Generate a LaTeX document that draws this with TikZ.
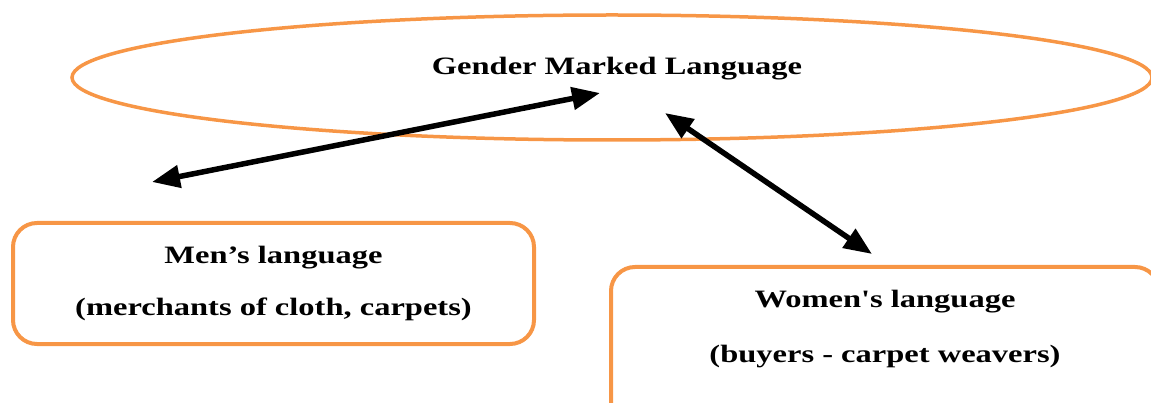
\documentclass[tikz,border=0pt]{standalone}
\usepackage{fontspec}
\newfontfamily\diagfont{Liberation Serif}[FakeStretch=1.3]
\usetikzlibrary{shapes,arrows.meta,positioning}
\definecolor{accentorange}{RGB}{247,150,70}

\begin{document}
\begin{tikzpicture}[x=1pt,y=1pt,
	oval/.style={draw=accentorange, line width=3.5pt, ellipse, minimum width=1080pt, minimum height=125pt, inner sep=0pt},
	langbox/.style={draw=accentorange, line width=4pt, rounded corners=24pt, inner sep=0pt},
	lbl/.style={font=\diagfont\fontsize{25}{52}\selectfont\bfseries, align=center},
	link/.style={{Triangle[length=28pt,width=22pt]}-{Triangle[length=28pt,width=22pt]}, line width=5.5pt}]
	\clip (0,0) rectangle (1151,-403);
	
	\node[oval] (gml) at (612,-77.5) {};
	\node[lbl] (gmltext) at (617,-69) {Gender Marked Language};
	
	\node[langbox, lbl, minimum width=521pt, minimum height=121pt] (men) at (273.5,-283.5) {Men’s language\\(merchants of cloth, carpets)};
	
	\node[langbox, minimum width=548pt, minimum height=160pt] (women) at (885,-347) {};
	\node[lbl] (womentext) at (885,-328.7) {Women's language\\[3pt](buyers - carpet weavers)};
	
	\coordinate (menend) at (152,-182);
	\coordinate (gmlleft) at (600,-93);
	\coordinate (gmlright) at (665,-113);
	\coordinate (womenend) at (872,-254);
	\draw[link] (menend) -- (gmlleft);
	\draw[link] (gmlright) -- (womenend);
\end{tikzpicture}
\end{document}
